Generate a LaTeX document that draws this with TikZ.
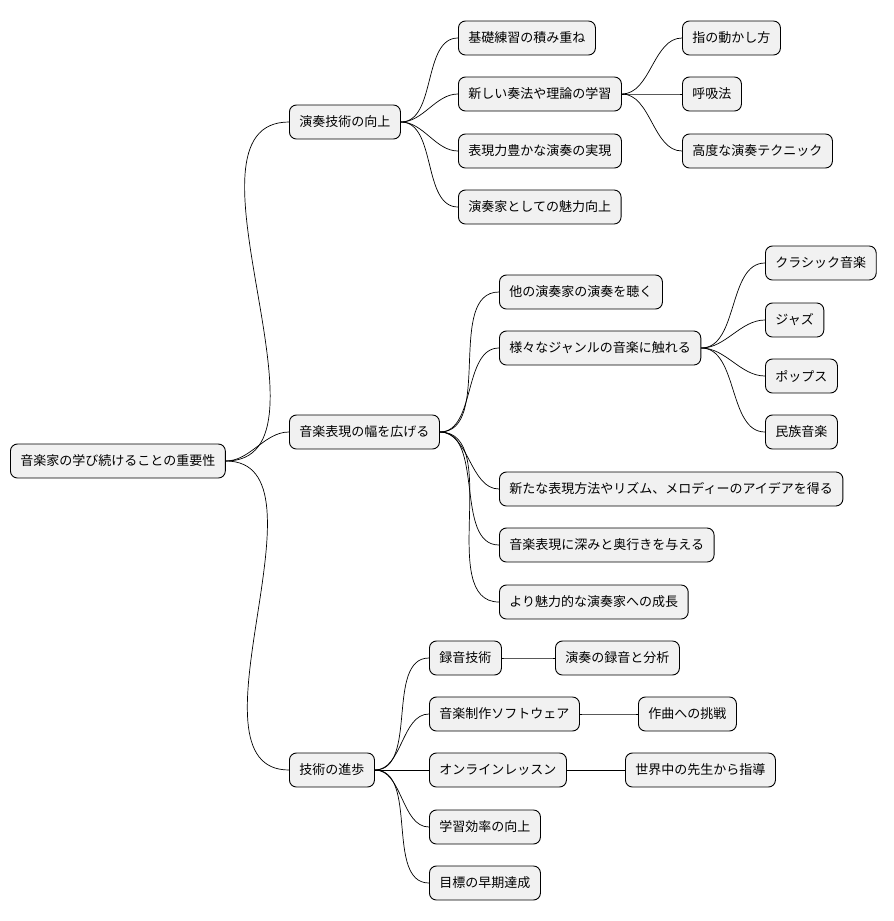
\documentclass[tikz,border=0pt]{standalone}
\usepackage{fontspec}
\setmainfont{Noto Sans CJK JP}
\begin{document}
\begin{tikzpicture}[x=1pt,y=-1pt,
  box/.style={draw=black,line width=0.9pt,fill={rgb,255:red,241;green,241;blue,241},rounded corners=7pt,anchor=west,minimum height=34pt,inner xsep=10pt,font=\fontsize{13}{15}\selectfont},
  con/.style={line width=0.7pt,out=0,in=180,looseness=0.9}]
\useasboundingbox (0,0) rectangle (894,921);
\node[box] (r) at (10,461) {音楽家の学び続けることの重要性};
\node[box] (a) at (289,122) {演奏技術の向上};
\node[box] (a1) at (458,38) {基礎練習の積み重ね};
\node[box] (a2) at (458,94) {新しい奏法や理論の学習};
\node[box] (a3) at (458,151) {表現力豊かな演奏の実現};
\node[box] (a4) at (458,207) {演奏家としての魅力向上};
\node[box] (a21) at (682,38) {指の動かし方};
\node[box] (a22) at (682,94) {呼吸法};
\node[box] (a23) at (682,151) {高度な演奏テクニック};
\node[box] (b) at (289,432) {音楽表現の幅を広げる};
\node[box] (b1) at (499,292) {他の演奏家の演奏を聴く};
\node[box] (b2) at (499,348) {様々なジャンルの音楽に触れる};
\node[box] (b3) at (499,489) {新たな表現方法やリズム、メロディーのアイデアを得る};
\node[box] (b4) at (499,545) {音楽表現に深みと奥行きを与える};
\node[box] (b5) at (499,602) {より魅力的な演奏家への成長};
\node[box] (b21) at (765,263) {クラシック音楽};
\node[box] (b22) at (765,320) {ジャズ};
\node[box] (b23) at (765,376) {ポップス};
\node[box] (b24) at (765,432) {民族音楽};
\node[box] (c) at (289,770) {技術の進歩};
\node[box] (c1) at (429,658) {録音技術};
\node[box] (c2) at (429,714) {音楽制作ソフトウェア};
\node[box] (c3) at (429,770) {オンラインレッスン};
\node[box] (c4) at (429,827) {学習効率の向上};
\node[box] (c5) at (429,883) {目標の早期達成};
\node[box] (c11) at (555,658) {演奏の録音と分析};
\node[box] (c21) at (638,714) {作曲への挑戦};
\node[box] (c31) at (625,770) {世界中の先生から指導};
\foreach \p/\c in {r/a,r/b,r/c,a/a1,a/a2,a/a3,a/a4,a2/a21,a2/a22,a2/a23,b/b1,b/b2,b/b3,b/b4,b/b5,b2/b21,b2/b22,b2/b23,b2/b24,c/c1,c/c2,c/c3,c/c4,c/c5,c1/c11,c2/c21,c3/c31}
  \draw[con] (\p.east) to (\c.west);
\end{tikzpicture}
\end{document}
